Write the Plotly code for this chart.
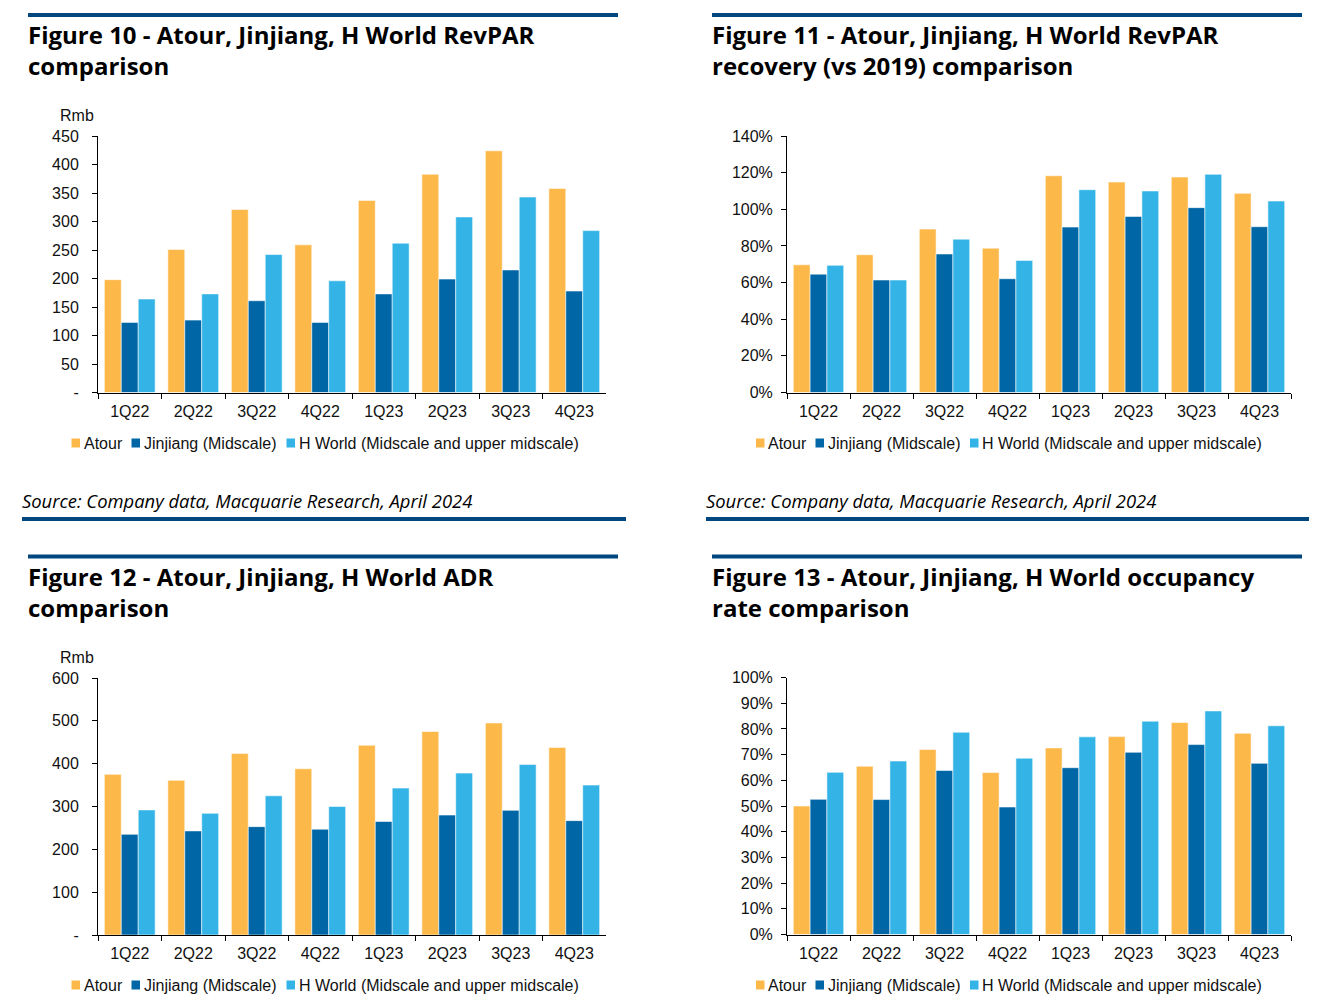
import plotly.graph_objects as go

# ---------------- data ----------------
quarters = ["1Q22", "2Q22", "3Q22", "4Q22", "1Q23", "2Q23", "3Q23", "4Q23"]
series_names = ["Atour", "Jinjiang (Midscale)", "H World (Midscale and upper midscale)"]

revpar_atour = [198, 251, 321, 259, 337, 383, 424, 358]
revpar_jinjiang = [123, 127, 161, 123, 173, 199, 215, 178]
revpar_hworld = [164, 173, 242, 196, 262, 308, 343, 284]

recovery_atour = [69.7, 75.2, 89.2, 78.8, 118.3, 114.9, 117.6, 108.7]
recovery_jinjiang = [64.6, 61.4, 75.6, 62.1, 90.3, 96.1, 100.9, 90.5]
recovery_hworld = [69.4, 61.4, 83.7, 72.1, 110.7, 110.0, 119.1, 104.5]

adr_atour = [375, 361, 424, 388, 443, 475, 495, 438]
adr_jinjiang = [235, 243, 253, 247, 265, 280, 291, 267]
adr_hworld = [292, 284, 325, 300, 343, 378, 398, 350]

occ_atour = [50.0, 65.5, 72.0, 63.0, 72.6, 77.0, 82.5, 78.3]
occ_jinjiang = [52.6, 52.5, 63.8, 49.6, 64.9, 70.9, 73.9, 66.6]
occ_hworld = [63.1, 67.5, 78.7, 68.6, 76.9, 83.0, 87.0, 81.2]

revpar_tickvals = [0, 50, 100, 150, 200, 250, 300, 350, 400, 450]
revpar_ticktext = ["-", "50", "100", "150", "200", "250", "300", "350", "400", "450"]
recovery_tickvals = [0, 20, 40, 60, 80, 100, 120, 140]
recovery_ticktext = ["0%", "20%", "40%", "60%", "80%", "100%", "120%", "140%"]
adr_tickvals = [0, 100, 200, 300, 400, 500, 600]
adr_ticktext = ["-", "100", "200", "300", "400", "500", "600"]
occ_tickvals = [0, 10, 20, 30, 40, 50, 60, 70, 80, 90, 100]
occ_ticktext = ["0%", "10%", "20%", "30%", "40%", "50%", "60%", "70%", "80%", "90%", "100%"]

titles = [
    ("Figure 10 - Atour, Jinjiang, H World RevPAR", "comparison"),
    ("Figure 11 - Atour, Jinjiang, H World RevPAR", "recovery (vs 2019) comparison"),
    ("Figure 12 - Atour, Jinjiang, H World ADR", "comparison"),
    ("Figure 13 - Atour, Jinjiang, H World occupancy", "rate comparison"),
]
source_text = "Source: Company data, Macquarie Research, April 2024"
unit_label = "Rmb"

# ---------------- styling / layout ----------------
W, H = 1326, 1007
colors = ["#FDB84A", "#0066A6", "#33B3E6"]
rule_color = "#00467F"
tick_font = dict(family="Liberation Sans, Arial, sans-serif", size=16, color="#111111")
title_font = dict(family="Open Sans, Noto Sans, sans-serif", size=24, color="#000000")
source_font = dict(family="Open Sans, Noto Sans, sans-serif", size=18.4, color="#000000")


def px(x):
    return x / W


def py(y):
    return 1 - y / H


panels = [
    dict(data=(revpar_atour, revpar_jinjiang, revpar_hworld), rng=[0, 450],
         tv=revpar_tickvals, tt=revpar_ticktext, x0=98, x1=606, ybot=392.5, ytop=136,
         standoff=10, title_y=50, tx=28, unit=True, legend_y=443,
         lx=(71.5, 131.5, 286.5), source=True, rule_top=(28, 618, 15), rule_bot=(22, 626, 519), src_x=22),
    dict(data=(recovery_atour, recovery_jinjiang, recovery_hworld), rng=[0, 140],
         tv=recovery_tickvals, tt=recovery_ticktext, x0=787, x1=1291, ybot=392.5, ytop=136,
         standoff=5, title_y=50, tx=712, unit=False, legend_y=443,
         lx=(756, 815.5, 970), source=True, rule_top=(712, 1302, 15), rule_bot=(706, 1309, 519), src_x=706),
    dict(data=(adr_atour, adr_jinjiang, adr_hworld), rng=[0, 600],
         tv=adr_tickvals, tt=adr_ticktext, x0=98, x1=606, ybot=935, ytop=678,
         standoff=10, title_y=592, tx=28, unit=True, legend_y=985,
         lx=(71.5, 131.5, 286.5), source=False, rule_top=(28, 618, 556.5), src_x=22),
    dict(data=(occ_atour, occ_jinjiang, occ_hworld), rng=[0, 100],
         tv=occ_tickvals, tt=occ_ticktext, x0=787, x1=1291, ybot=934.5, ytop=677.5,
         standoff=5, title_y=592, tx=712, unit=False, legend_y=985,
         lx=(756, 815.5, 970), source=False, rule_top=(712, 1302, 556.5), src_x=706),
]

fig = go.Figure()
layout = dict(
    width=W, height=H, autosize=False,
    margin=dict(l=0, r=0, t=0, b=0),
    paper_bgcolor="white", plot_bgcolor="white",
    barmode="group", bargap=0.2, bargroupgap=0,
    showlegend=False, template="none",
    font=tick_font,
)
annotations = []
shapes = []

for i, p in enumerate(panels):
    n = "" if i == 0 else str(i + 1)
    for vals, name, c in zip(p["data"], series_names, colors):
        fig.add_trace(go.Bar(
            x=quarters, y=vals, name=name,
            marker=dict(color=c, line=dict(color="rgba(255,255,255,0.55)", width=1)),
            xaxis="x" + n, yaxis="y" + n, showlegend=False,
        ))
    layout["xaxis" + n] = dict(
        domain=[px(p["x0"]), px(p["x1"])], anchor="y" + n, type="category",
        range=[-0.5, 7.5], showline=True, linecolor="#000", linewidth=1,
        ticks="outside", ticklen=5, tickwidth=1, tickcolor="#000", tickson="boundaries",
        tickfont=tick_font, showgrid=False, zeroline=False, automargin=False,
        ticklabelstandoff=4,
    )
    layout["yaxis" + n] = dict(
        domain=[py(p["ybot"]), py(p["ytop"])], anchor="x" + n, range=p["rng"],
        tickmode="array", tickvals=p["tv"], ticktext=p["tt"],
        showline=True, linecolor="#000", linewidth=1,
        ticks="outside", ticklen=5, tickwidth=1, tickcolor="#000",
        tickfont=tick_font, showgrid=False, zeroline=False, automargin=False,
        ticklabelstandoff=p["standoff"],
    )
    # rules
    rx0, rx1, ry = p["rule_top"]
    shapes.append(dict(type="line", xref="paper", yref="paper", x0=px(rx0), x1=px(rx1),
                       y0=py(ry), y1=py(ry), line=dict(color=rule_color, width=4)))
    if p["source"]:
        bx0, bx1, by = p["rule_bot"]
        shapes.append(dict(type="line", xref="paper", yref="paper", x0=px(bx0), x1=px(bx1),
                           y0=py(by), y1=py(by), line=dict(color=rule_color, width=4)))
        annotations.append(dict(text="<i>" + source_text + "</i>", xref="paper", yref="paper",
                                x=px(p["src_x"] - 2), y=py(501), xanchor="left", yanchor="middle",
                                showarrow=False, font=source_font))
    # title (two lines)
    annotations.append(dict(text="<b>" + titles[i][0] + "<br>" + titles[i][1] + "</b>",
                            xref="paper", yref="paper", align="left",
                            x=px(p["tx"] - 2), y=py(p["title_y"]), xanchor="left", yanchor="middle",
                            showarrow=False, font=title_font))
    if p["unit"]:
        annotations.append(dict(text=unit_label, xref="paper", yref="paper",
                                x=px(57.5), y=py(p["ytop"] - 20.5), xanchor="left", yanchor="middle",
                                showarrow=False, font=tick_font))
    # legend swatches + labels
    for lxx, name, c in zip(p["lx"], series_names, colors):
        ly = p["legend_y"]
        shapes.append(dict(type="rect", xref="paper", yref="paper",
                           x0=px(lxx), x1=px(lxx + 8.5), y0=py(ly + 4.5), y1=py(ly - 4.5),
                           fillcolor=c, line=dict(width=0)))
        annotations.append(dict(text=name, xref="paper", yref="paper",
                                x=px(lxx + 10), y=py(ly), xanchor="left", yanchor="middle",
                                showarrow=False, font=tick_font))

layout["annotations"] = annotations
layout["shapes"] = shapes
fig.update_layout(**layout)
fig.write_html("out.html")
